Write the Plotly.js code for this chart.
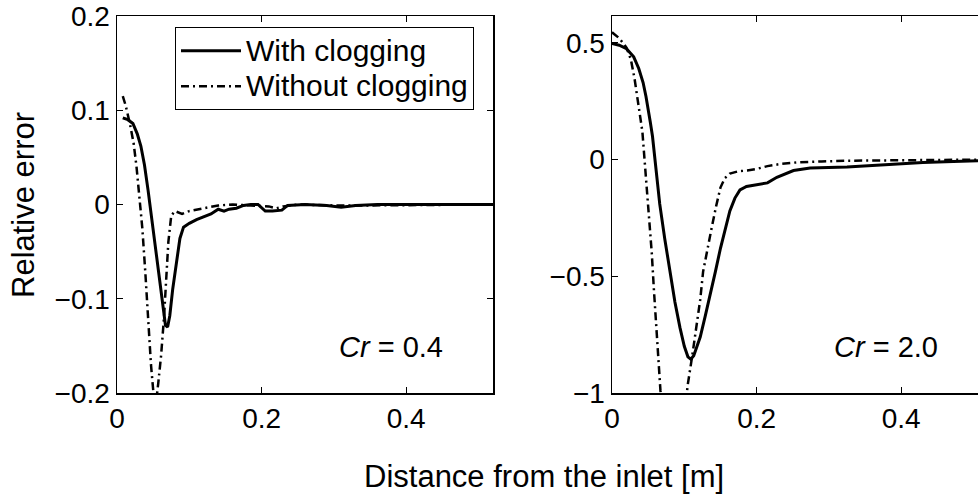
<!DOCTYPE html>
<html>
<head>
<meta charset="utf-8">
<script src="https://cdn.plot.ly/plotly-3.0.1.min.js"></script>
<style>
html,body{margin:0;padding:0;overflow:hidden;background:#fff;}
#chart{width:990px;height:500px;}
</style>
</head>
<body>
<div id="chart"></div>
<script>
// Panel 1: Cr = 0.4
const x1With = [0.008,0.015,0.022,0.028,0.033,0.038,0.043,0.048,0.053,0.058,0.063,0.067,0.070,0.073,0.077,0.082,0.087,0.092,0.100,0.110,0.120,0.130,0.140,0.148,0.155,0.165,0.175,0.185,0.195,0.205,0.215,0.228,0.236,0.260,0.290,0.310,0.330,0.360,0.400,0.440,0.520];
const y1With = [0.092,0.090,0.086,0.075,0.062,0.042,0.015,-0.015,-0.048,-0.080,-0.110,-0.128,-0.130,-0.118,-0.090,-0.060,-0.036,-0.024,-0.020,-0.016,-0.013,-0.010,-0.005,-0.007,-0.005,-0.004,-0.001,0.000,0.000,-0.007,-0.007,-0.006,-0.001,0.000,-0.001,-0.003,-0.001,0.000,0.000,0.000,0.000];
const x1Without = [0.008,0.012,0.018,0.023,0.027,0.031,0.035,0.039,0.043,0.047,0.051,0.054,0.057,0.061,0.065,0.068,0.071,0.075,0.080,0.090,0.100,0.120,0.140,0.160,0.190,0.210,0.220,0.230,0.250,0.300,0.350,0.520];
const y1Without = [0.115,0.105,0.085,0.065,0.040,0.010,-0.025,-0.070,-0.120,-0.170,-0.205,-0.210,-0.190,-0.160,-0.120,-0.080,-0.040,-0.012,-0.007,-0.010,-0.007,-0.004,-0.001,0.000,-0.001,-0.002,-0.004,-0.002,0.000,-0.001,-0.001,0.000];

// Panel 2: Cr = 2.0
const x2With = [0.000,0.010,0.020,0.030,0.037,0.043,0.047,0.050,0.053,0.056,0.060,0.063,0.066,0.073,0.080,0.087,0.094,0.100,0.105,0.109,0.113,0.118,0.122,0.129,0.136,0.143,0.150,0.157,0.163,0.170,0.177,0.186,0.195,0.215,0.228,0.240,0.251,0.274,0.300,0.325,0.360,0.394,0.430,0.472,0.520];
const y2With = [0.497,0.490,0.475,0.440,0.390,0.330,0.270,0.220,0.160,0.100,-0.010,-0.100,-0.190,-0.340,-0.480,-0.610,-0.720,-0.800,-0.845,-0.855,-0.840,-0.800,-0.760,-0.670,-0.580,-0.480,-0.380,-0.290,-0.220,-0.165,-0.130,-0.115,-0.110,-0.100,-0.076,-0.060,-0.047,-0.036,-0.034,-0.032,-0.025,-0.018,-0.013,-0.008,-0.004];
const x2Without = [0.000,0.010,0.020,0.026,0.031,0.036,0.042,0.045,0.048,0.052,0.055,0.058,0.061,0.064,0.067,0.072,0.080,0.088,0.096,0.101,0.105,0.111,0.117,0.122,0.126,0.132,0.138,0.144,0.150,0.156,0.163,0.175,0.187,0.200,0.215,0.235,0.256,0.290,0.325,0.400,0.520];
const y2Without = [0.545,0.520,0.480,0.430,0.350,0.240,0.120,0.000,-0.120,-0.270,-0.400,-0.560,-0.720,-0.860,-0.990,-1.120,-1.200,-1.220,-1.160,-1.060,-0.960,-0.840,-0.720,-0.600,-0.480,-0.380,-0.290,-0.200,-0.120,-0.080,-0.060,-0.050,-0.047,-0.040,-0.028,-0.018,-0.012,-0.008,-0.005,-0.003,0.000];

const seriesNames = ['With clogging','Without clogging'];
const xTicks = [0, 0.2, 0.4];
const y1Ticks = [-0.2, -0.1, 0, 0.1, 0.2];
const y2Ticks = [-1, -0.5, 0, 0.5];
const panelLabels = ['0.4', '2.0'];
const xTitle = 'Distance from the inlet [m]';
const yTitle = 'Relative error';

const FONT = 'Liberation Sans, Arial, Helvetica, sans-serif';
const W = 990, H = 500;
const px = v => v / W;
const py = v => (H - v) / H;

const solid = {color:'#000', width:3, dash:'solid'};
const dashdot = {color:'#000', width:2.5, dash:'8px,4px,2px,4px'};
const legName = s => '<span style="font-size:30px">' + s + '</span>';

const traces = [
  {x:x1With, y:y1With, xaxis:'x', yaxis:'y', mode:'lines', name:legName(seriesNames[0]), line:solid, showlegend:true},
  {x:x1Without, y:y1Without, xaxis:'x', yaxis:'y', mode:'lines', name:legName(seriesNames[1]), line:dashdot, showlegend:true},
  {x:x2With, y:y2With, xaxis:'x2', yaxis:'y2', mode:'lines', name:seriesNames[0], line:solid, showlegend:false},
  {x:x2Without, y:y2Without, xaxis:'x2', yaxis:'y2', mode:'lines', name:seriesNames[1], line:dashdot, showlegend:false}
];

const axisCommon = {
  showline:true, linecolor:'#000', linewidth:1.5, mirror:'ticks',
  ticks:'inside', ticklen:6, tickwidth:1, tickcolor:'#000',
  showgrid:false, zeroline:false,
  tickfont:{family:FONT, size:28, color:'#000'}
};

const yDomain = [py(393), py(16)];

const layout = {
  width:W, height:H,
  margin:{l:0, r:0, t:0, b:0},
  paper_bgcolor:'#fff', plot_bgcolor:'#fff',
  showlegend:true,
  xaxis:Object.assign({}, axisCommon, {domain:[px(117), px(493)], range:[0, 0.52], tickvals:xTicks, anchor:'y'}),
  yaxis:Object.assign({}, axisCommon, {domain:yDomain, range:[-0.2, 0.2], tickvals:y1Ticks, anchor:'x'}),
  xaxis2:Object.assign({}, axisCommon, {domain:[px(612), px(988)], range:[0, 0.52], tickvals:xTicks, anchor:'y2'}),
  yaxis2:Object.assign({}, axisCommon, {domain:yDomain, range:[-1, 0.615], tickvals:y2Ticks, anchor:'x2'}),
  legend:{
    x:px(175), y:py(27), xanchor:'left', yanchor:'top',
    bgcolor:'#fff', bordercolor:'#000', borderwidth:1,
    font:{family:FONT, size:25, color:'#000'},
    itemwidth:60, tracegroupgap:0
  },
  annotations:[
    {xref:'paper', yref:'paper', x:px(544), y:py(476), text:xTitle, showarrow:false,
     font:{family:FONT, size:31, color:'#000'}, xanchor:'center', yanchor:'middle'},
    {xref:'paper', yref:'paper', x:px(23), y:py(205), text:yTitle, showarrow:false, textangle:-90,
     font:{family:FONT, size:31, color:'#000'}, xanchor:'center', yanchor:'middle'},
    {xref:'paper', yref:'paper', x:px(337), y:py(347), text:'<i>Cr</i> = ' + panelLabels[0], showarrow:false,
     font:{family:FONT, size:29, color:'#000'}, xanchor:'left', yanchor:'middle'},
    {xref:'paper', yref:'paper', x:px(832), y:py(347), text:'<i>Cr</i> = ' + panelLabels[1], showarrow:false,
     font:{family:FONT, size:29, color:'#000'}, xanchor:'left', yanchor:'middle'}
  ]
};

Plotly.newPlot('chart', traces, layout, {staticPlot:true, displayModeBar:false});
</script>
</body>
</html>
